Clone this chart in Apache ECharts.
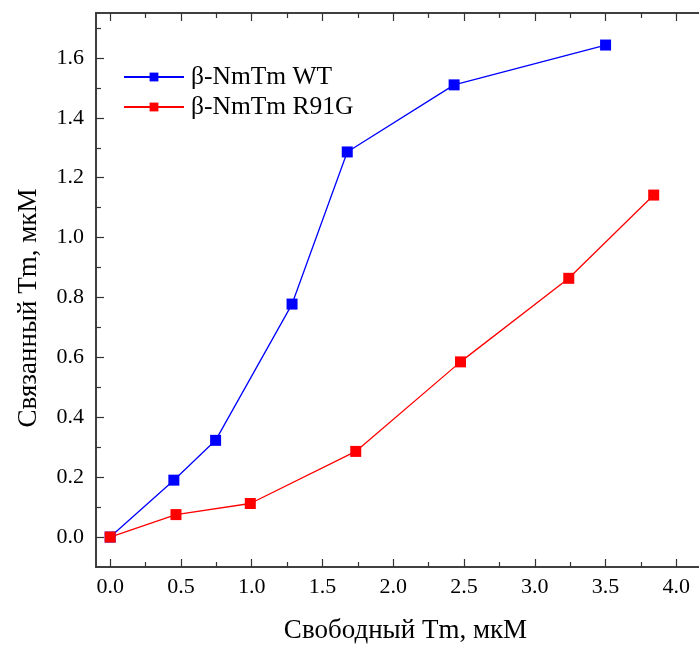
<!DOCTYPE html>
<html><head><meta charset="utf-8">
<script src="https://cdn.jsdelivr.net/npm/echarts@6/dist/echarts.min.js"></script>
<style>html,body{margin:0;padding:0;background:#fff}#c{width:699px;height:646px}</style>
</head><body><div id="c"></div>
<script>
const wtX = [0, 0.45, 0.745, 1.285, 1.675, 2.43, 3.5];
const wtY = [0, 0.19, 0.323, 0.778, 1.286, 1.51, 1.643];
const mutX = [0, 0.465, 0.99, 1.735, 2.475, 3.24, 3.84];
const mutY = [0, 0.075, 0.112, 0.286, 0.585, 0.864, 1.142];
const seriesNames = ['β-NmTm WT', 'β-NmTm R91G'];
const xMajor = [0, 0.5, 1.0, 1.5, 2.0, 2.5, 3.0, 3.5, 4.0];
const xMinor = [0.25, 0.75, 1.25, 1.75, 2.25, 2.75, 3.25, 3.75];
const yMajor = [0, 0.2, 0.4, 0.6, 0.8, 1.0, 1.2, 1.4, 1.6];
const yMinor = [0.1, 0.3, 0.5, 0.7, 0.9, 1.1, 1.3, 1.5, 1.7];
const xTitle = 'Свободный Tm, мкМ';
const yTitle = 'Связанный Tm, мкМ';

const font = 'Liberation Serif';
const axisCol = '#333';
const X0 = -0.1, X1 = 4.16, Y0 = -0.1, Y1 = 1.75;

function xa(pos, ticks, len, labels, extra) {
  return Object.assign({
    type: 'value', position: pos, min: X0, max: X1,
    axisLine: { show: true, onZero: false, lineStyle: { color: axisCol, width: 1.5 } },
    axisTick: { show: true, inside: true, length: len, customValues: ticks, lineStyle: { color: axisCol, width: 1.2 } },
    axisLabel: labels ? { show: true, customValues: ticks, formatter: v => v.toFixed(1), fontFamily: font, fontSize: 22, color: '#000', margin: 9 } : { show: false },
    splitLine: { show: false }
  }, extra || {});
}
function ya(ticks, len, labels, extra) {
  return Object.assign({
    type: 'value', position: 'left', min: Y0, max: Y1,
    axisLine: { show: true, onZero: false, lineStyle: { color: axisCol, width: 1.5 } },
    axisTick: { show: true, inside: true, length: len, customValues: ticks, lineStyle: { color: axisCol, width: 1.2 } },
    axisLabel: labels ? { show: true, customValues: ticks, formatter: v => v.toFixed(1), fontFamily: font, fontSize: 22, color: '#000', margin: 12 } : { show: false },
    splitLine: { show: false }
  }, extra || {});
}

const chart = echarts.init(document.getElementById('c'));
chart.setOption({
  backgroundColor: '#fff',
  animation: false,
  grid: { left: 96, top: 13, right: 0, bottom: 79, containLabel: false, outerBoundsMode: 'none' },
  legend: {
    orient: 'vertical', left: 118, top: 59, itemWidth: 60, itemHeight: 11, itemGap: 4,
    textStyle: { fontFamily: font, fontSize: 25.5, color: '#000', padding: [0, 0, 0, 2] },
    data: seriesNames
  },
  xAxis: [
    xa('bottom', xMajor, 8, true, { name: xTitle, nameLocation: 'middle', nameGap: 50, nameTextStyle: { fontFamily: font, fontSize: 27, color: '#000', padding: [0, 0, 0, 16] } }),
    xa('bottom', xMinor, 5, false),
    xa('top', xMajor, 8, false),
    xa('top', xMinor, 5, false)
  ],
  yAxis: [
    ya(yMajor, 8, true, { name: yTitle, nameLocation: 'middle', nameGap: 54, nameTextStyle: { fontFamily: font, fontSize: 27, color: '#000', padding: [0, 36, 0, 0] } }),
    ya(yMinor, 5, false)
  ],
  series: [
    { name: seriesNames[0], type: 'line', xAxisIndex: 0, yAxisIndex: 0,
      data: wtX.map((x, i) => [x, wtY[i]]), symbol: 'rect', symbolSize: 11,
      itemStyle: { color: '#0000ff' }, lineStyle: { color: '#0000ff', width: 1.3 } },
    { name: seriesNames[1], type: 'line', xAxisIndex: 0, yAxisIndex: 0,
      data: mutX.map((x, i) => [x, mutY[i]]), symbol: 'rect', symbolSize: 11,
      itemStyle: { color: '#ff0000' }, lineStyle: { color: '#ff0000', width: 1.3 } }
  ]
});
</script></body></html>
